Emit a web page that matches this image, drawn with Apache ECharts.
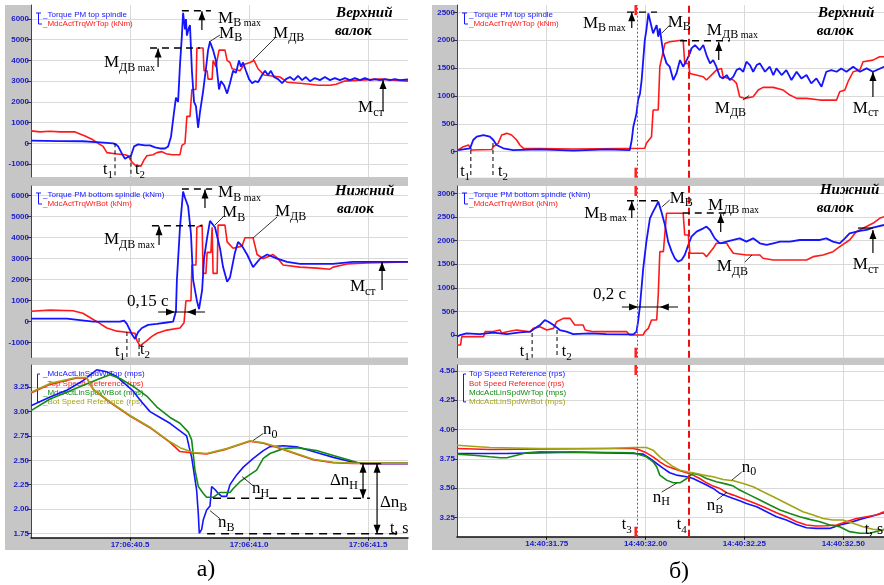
<!DOCTYPE html>
<html><head><meta charset="utf-8">
<script src="https://cdn.jsdelivr.net/npm/echarts@6.0.0/dist/echarts.min.js"></script>
<style>html,body{margin:0;padding:0;background:#fff}#c{width:884px;height:585px}</style>
</head><body><div id="c"></div>
<script>
// ---------------- DATA (time in seconds of the minute, value) ----------------
// a) left figure, 17:06:xx
const aTopTorquePM = [[40.084,125],[40.206,110],[40.302,100],[40.374,50],[40.429,0],[40.441,-50],[40.450,-150],[40.466,-500],[40.479,-750],[40.492,-650],[40.504,-600],[40.517,-150],[40.534,-50],[40.563,-100],[40.584,-100],[40.605,-200],[40.626,-250],[40.647,-250],[40.660,-150],[40.672,300],[40.685,1500],[40.693,2200],[40.702,2000],[40.710,3800],[40.718,5200],[40.723,6300],[40.731,5500],[40.735,6000],[40.739,5200],[40.748,5600],[40.752,5700],[40.760,3500],[40.769,2000],[40.777,1800],[40.786,750],[40.794,1500],[40.807,2500],[40.819,3600],[40.828,4500],[40.836,4900],[40.849,4500],[40.861,4000],[40.874,2600],[40.882,3000],[40.895,2800],[40.908,2400],[40.920,2900],[40.933,3500],[40.945,3400],[40.958,4000],[40.966,3700],[40.975,3900],[40.987,3500],[41.000,3100],[41.013,2900],[41.025,3000],[41.038,2950],[41.055,3300],[41.067,3500],[41.080,3300],[41.092,3500],[41.105,3200],[41.122,3100],[41.139,2900],[41.155,3100],[41.172,3200],[41.189,3050],[41.206,3250],[41.223,3050],[41.239,3200],[41.256,3000],[41.277,3150],[41.298,3050],[41.319,3200],[41.340,3050],[41.361,3150],[41.382,3050],[41.403,3150],[41.424,3050],[41.445,3150],[41.466,3050],[41.487,3150],[41.508,3050],[41.529,3100],[41.550,3050],[41.571,3100],[41.592,3050],[41.613,3100],[41.634,3050],[41.668,3080]];
const aTopTorqueDrive = [[40.084,600],[40.122,550],[40.164,580],[40.206,550],[40.269,550],[40.311,350],[40.340,200],[40.366,0],[40.387,-150],[40.403,-450],[40.437,-500],[40.479,-550],[40.492,-600],[40.508,-900],[40.521,-1050],[40.546,-1100],[40.559,-800],[40.571,-600],[40.597,-550],[40.613,-450],[40.634,-400],[40.651,-500],[40.677,-550],[40.710,-550],[40.718,-100],[40.731,0],[40.739,1300],[40.752,1300],[40.760,2600],[40.777,2600],[40.781,4600],[40.807,4600],[40.811,3500],[40.824,3500],[40.828,3100],[40.845,3100],[40.849,4000],[40.861,3700],[40.874,4500],[40.899,4500],[40.908,4000],[40.920,3900],[40.929,3600],[40.962,3500],[40.979,3800],[41.004,3900],[41.021,4000],[41.038,3600],[41.063,3300],[41.097,3250],[41.130,3200],[41.160,2950],[41.214,2900],[41.256,2850],[41.290,2800],[41.340,2800],[41.366,2850],[41.399,3000],[41.466,3050],[41.550,3100],[41.613,3050],[41.668,3000]];
const aBotTorquePM = [[40.084,150],[40.235,150],[40.345,0],[40.458,0],[40.475,50],[40.487,-100],[40.508,-600],[40.521,-820],[40.534,-500],[40.550,-300],[40.576,-150],[40.613,-100],[40.647,-50],[40.681,0],[40.693,500],[40.697,2000],[40.710,4500],[40.723,6200],[40.731,5900],[40.744,5500],[40.756,4200],[40.765,2000],[40.781,1000],[40.790,600],[40.803,1500],[40.811,3000],[40.824,4000],[40.836,4800],[40.857,4500],[40.878,3500],[40.891,2600],[40.908,1900],[40.920,2100],[40.941,3300],[40.954,3800],[40.971,3600],[40.992,3200],[41.017,2600],[41.046,3000],[41.076,3200],[41.118,3000],[41.160,2850],[41.214,2750],[41.353,2750],[41.437,2850],[41.668,2850]];
const aBotTorqueDrive = [[40.084,500],[40.164,550],[40.260,520],[40.302,400],[40.361,0],[40.403,-300],[40.445,-450],[40.487,-500],[40.521,-550],[40.529,-900],[40.542,-1150],[40.571,-900],[40.592,-700],[40.613,-550],[40.655,-400],[40.710,-300],[40.727,-50],[40.735,1000],[40.756,1000],[40.760,2700],[40.777,2700],[40.781,4500],[40.803,4600],[40.807,2300],[40.819,2300],[40.824,3300],[40.840,3300],[40.845,4500],[40.849,2300],[40.866,2300],[40.870,4600],[40.899,4600],[40.908,3800],[40.933,3500],[40.971,3600],[40.983,4000],[41.017,4000],[41.034,3200],[41.059,3000],[41.101,3200],[41.122,3000],[41.143,2700],[41.214,2600],[41.286,2550],[41.340,2500],[41.353,2600],[41.412,2750],[41.496,2800],[41.668,2850]];
const aTopSpeed = [[40.084,3.06],[40.164,3.15],[40.234,3.22],[40.304,3.32],[40.360,3.43],[40.402,3.41],[40.444,3.36],[40.514,3.21],[40.542,3.12],[40.584,3.00],[40.626,2.94],[40.668,2.88],[40.717,2.79],[40.738,2.75],[40.749,2.63],[40.759,2.53],[40.766,2.42],[40.780,2.19],[40.787,1.95],[40.791,1.75],[40.801,1.79],[40.808,1.89],[40.822,1.99],[40.836,2.03],[40.843,2.23],[40.857,2.20],[40.871,2.16],[40.885,2.13],[40.906,2.13],[40.920,2.25],[40.948,2.35],[40.976,2.43],[41.018,2.52],[41.060,2.60],[41.088,2.64],[41.144,2.65],[41.200,2.64],[41.284,2.58],[41.354,2.53],[41.438,2.48],[41.494,2.465],[41.668,2.465]];
const aTopSpeedRef = [[40.084,3.19],[40.164,3.28],[40.276,3.345],[40.318,3.345],[40.346,3.225],[40.416,3.095],[40.500,2.955],[40.584,2.835],[40.668,2.685],[40.710,2.59],[40.766,2.575],[40.822,2.565],[40.906,2.615],[41.004,2.695],[41.060,2.675],[41.116,2.635],[41.186,2.575],[41.270,2.505],[41.354,2.475],[41.438,2.468],[41.668,2.468]];
const aBotSpeed = [[40.084,3.01],[40.164,3.13],[40.234,3.20],[40.304,3.27],[40.374,3.34],[40.416,3.38],[40.458,3.34],[40.514,3.26],[40.570,3.16],[40.612,3.05],[40.668,2.94],[40.710,2.88],[40.745,2.79],[40.759,2.71],[40.773,2.40],[40.787,2.23],[40.808,2.16],[40.822,2.12],[40.850,2.12],[40.878,2.17],[40.920,2.17],[40.934,2.21],[40.962,2.28],[40.990,2.33],[41.032,2.40],[41.060,2.52],[41.088,2.57],[41.144,2.62],[41.200,2.63],[41.284,2.60],[41.354,2.55],[41.424,2.50],[41.466,2.47],[41.668,2.47]];
const aBotSpeedRef = [[40.084,3.20],[40.164,3.29],[40.276,3.35],[40.318,3.35],[40.346,3.23],[40.416,3.10],[40.500,2.96],[40.584,2.84],[40.668,2.69],[40.710,2.63],[40.766,2.58],[40.822,2.57],[40.906,2.62],[41.004,2.70],[41.060,2.68],[41.116,2.64],[41.186,2.58],[41.270,2.51],[41.354,2.48],[41.438,2.47],[41.668,2.47]];
// б) right figure, 14:40:xx
const bTopTorquePM = [[31.526,30],[31.556,61],[31.564,210],[31.573,269],[31.590,299],[31.606,269],[31.615,210],[31.623,120],[31.640,61],[31.665,30],[31.733,42],[31.817,18],[31.901,42],[31.960,30],[31.965,210],[31.969,449],[31.977,688],[31.981,927],[31.986,1046],[31.990,1285],[31.994,1643],[31.998,2002],[32.002,2181],[32.007,2480],[32.011,2510],[32.015,2241],[32.019,2122],[32.028,2271],[32.032,2062],[32.036,2211],[32.040,2002],[32.045,1763],[32.053,1584],[32.061,1524],[32.070,1285],[32.078,1404],[32.087,1643],[32.095,1524],[32.104,1643],[32.112,1763],[32.116,1853],[32.125,1912],[32.137,1823],[32.146,1912],[32.154,1733],[32.163,1584],[32.171,1643],[32.179,1524],[32.188,1345],[32.196,1315],[32.205,1375],[32.213,1285],[32.222,1345],[32.230,1464],[32.238,1494],[32.247,1434],[32.255,1614],[32.264,1554],[32.272,1434],[32.281,1554],[32.289,1584],[32.302,1434],[32.314,1524],[32.323,1375],[32.331,1494],[32.344,1375],[32.356,1464],[32.369,1285],[32.382,1434],[32.394,1315],[32.407,1375],[32.419,1225],[32.432,1315],[32.445,1166],[32.457,1434],[32.470,1464],[32.483,1434],[32.495,1494],[32.508,1434],[32.525,1524],[32.542,1434],[32.559,1494],[32.575,1434],[32.603,1524]];
const bTopTorqueDrive = [[31.526,30],[31.539,90],[31.552,120],[31.556,90],[31.560,30],[31.611,40],[31.615,90],[31.627,150],[31.636,299],[31.649,329],[31.661,299],[31.674,210],[31.682,120],[31.691,61],[31.817,50],[31.998,61],[32.002,150],[32.015,269],[32.019,747],[32.032,747],[32.036,1524],[32.040,1554],[32.049,1942],[32.061,1972],[32.095,2002],[32.099,1584],[32.108,1584],[32.112,1404],[32.146,1345],[32.154,1285],[32.179,1464],[32.192,1494],[32.196,1345],[32.222,1285],[32.230,1225],[32.238,986],[32.251,956],[32.272,986],[32.285,1106],[32.297,1154],[32.323,1154],[32.348,1106],[32.365,1016],[32.382,956],[32.407,956],[32.441,926],[32.483,926],[32.491,1076],[32.504,1106],[32.512,1255],[32.525,1434],[32.542,1464],[32.550,1614],[32.575,1643],[32.592,1703],[32.603,1703]];
const bBotTorquePM = [[31.523,-35],[31.531,0],[31.547,35],[31.581,21],[31.615,49],[31.649,21],[31.682,56],[31.708,71],[31.720,141],[31.733,212],[31.745,318],[31.754,282],[31.767,212],[31.783,106],[31.800,71],[31.817,21],[31.859,35],[31.901,21],[31.969,14],[31.977,71],[31.981,282],[31.986,635],[31.994,1412],[32.002,1977],[32.011,2471],[32.019,2612],[32.028,2753],[32.032,2824],[32.040,2612],[32.049,2330],[32.057,1977],[32.066,1765],[32.074,1624],[32.082,1553],[32.091,1589],[32.099,1694],[32.108,1906],[32.116,2083],[32.129,2189],[32.146,2259],[32.154,2295],[32.163,2224],[32.175,2047],[32.188,1942],[32.205,1977],[32.222,2012],[32.238,2047],[32.255,1977],[32.272,2047],[32.289,1942],[32.306,1906],[32.323,1942],[32.340,1977],[32.365,1977],[32.390,2012],[32.415,2012],[32.441,2012],[32.457,2047],[32.474,1977],[32.491,1942],[32.504,2047],[32.516,2153],[32.542,2203],[32.559,2224],[32.575,2273],[32.603,2330]];
const bBotTorqueDrive = [[31.523,-212],[31.532,-212],[31.535,-35],[31.590,-35],[31.594,71],[31.611,71],[31.615,106],[31.632,106],[31.636,35],[31.649,71],[31.674,106],[31.708,71],[31.716,141],[31.733,177],[31.750,106],[31.767,141],[31.775,282],[31.792,353],[31.809,353],[31.821,212],[31.842,212],[31.847,106],[31.868,71],[31.952,71],[31.960,0],[31.994,0],[31.998,71],[32.007,141],[32.015,318],[32.028,318],[32.032,847],[32.036,1765],[32.045,1765],[32.053,2577],[32.095,2577],[32.099,2118],[32.108,2118],[32.112,1730],[32.146,1730],[32.154,1659],[32.171,1836],[32.179,1942],[32.205,1942],[32.213,1836],[32.222,1730],[32.255,1694],[32.289,1694],[32.297,1624],[32.323,1589],[32.407,1589],[32.424,1659],[32.449,1694],[32.474,1765],[32.491,1871],[32.516,2012],[32.533,2189],[32.550,2259],[32.575,2365],[32.592,2471],[32.603,2506]];
const bTopSpeedRef = [[31.523,3.795],[31.649,3.795],[31.817,3.807],[31.969,3.795],[31.994,3.790],[32.011,3.753],[32.028,3.710],[32.045,3.668],[32.061,3.631],[32.078,3.611],[32.104,3.597],[32.120,3.582],[32.137,3.554],[32.154,3.526],[32.171,3.497],[32.188,3.455],[32.205,3.432],[32.222,3.412],[32.238,3.392],[32.255,3.369],[32.281,3.341],[32.306,3.298],[32.331,3.256],[32.356,3.227],[32.382,3.190],[32.407,3.162],[32.432,3.156],[32.466,3.156],[32.491,3.185],[32.516,3.205],[32.542,3.233],[32.567,3.256],[32.603,3.290]];
const bBotSpeedRef = [[31.523,3.838],[31.606,3.830],[31.901,3.838],[31.969,3.838],[31.986,3.824],[32.002,3.801],[32.019,3.767],[32.036,3.724],[32.053,3.688],[32.070,3.668],[32.087,3.648],[32.104,3.631],[32.120,3.611],[32.137,3.582],[32.154,3.545],[32.171,3.517],[32.188,3.497],[32.205,3.460],[32.222,3.440],[32.238,3.420],[32.255,3.398],[32.281,3.364],[32.306,3.327],[32.331,3.290],[32.356,3.256],[32.382,3.213],[32.407,3.185],[32.432,3.176],[32.457,3.179],[32.483,3.185],[32.508,3.213],[32.533,3.241],[32.559,3.256],[32.584,3.270],[32.603,3.298]];
const bTopLinSpeed = [[31.523,3.790],[31.564,3.781],[31.606,3.767],[31.632,3.759],[31.649,3.759],[31.674,3.781],[31.699,3.801],[31.733,3.810],[31.969,3.801],[32.002,3.767],[32.019,3.724],[32.028,3.682],[32.036,3.611],[32.053,3.568],[32.070,3.545],[32.087,3.545],[32.104,3.582],[32.120,3.625],[32.137,3.611],[32.154,3.582],[32.179,3.554],[32.205,3.534],[32.222,3.517],[32.238,3.483],[32.264,3.440],[32.289,3.398],[32.314,3.355],[32.340,3.313],[32.365,3.284],[32.390,3.256],[32.415,3.233],[32.441,3.213],[32.466,3.185],[32.491,3.170],[32.516,3.128],[32.542,3.114],[32.567,3.114],[32.603,3.148]];
const bBotLinSpeed = [[31.523,3.866],[31.606,3.847],[31.733,3.838],[31.901,3.838],[31.969,3.847],[32.002,3.847],[32.019,3.824],[32.036,3.767],[32.053,3.724],[32.070,3.682],[32.087,3.653],[32.104,3.639],[32.120,3.631],[32.146,3.611],[32.171,3.597],[32.196,3.574],[32.222,3.563],[32.247,3.540],[32.272,3.511],[32.297,3.469],[32.323,3.426],[32.348,3.384],[32.373,3.341],[32.398,3.298],[32.424,3.270],[32.449,3.241],[32.474,3.227],[32.499,3.227],[32.525,3.199],[32.550,3.170],[32.575,3.148],[32.603,3.142]];
// tick values
const aTimeTicks = [40.5, 41.0, 41.5];
const bTimeTicks = [31.75, 32.00, 32.25, 32.50];
const aTorqueTicks = [-1000, 0, 1000, 2000, 3000, 4000, 5000, 6000];
const aSpeedTicks = [1.75, 2.00, 2.25, 2.50, 2.75, 3.00, 3.25];
const bTopTorqueTicks = [0, 500, 1000, 1500, 2000, 2500];
const bBotTorqueTicks = [0, 500, 1000, 1500, 2000, 2500, 3000];
const bSpeedTicks = [3.25, 3.50, 3.75, 4.00, 4.25, 4.50];
const bMarkTimes = [31.975, 32.113]; // t3, t4

// ---------------- CHART ----------------
const BLUE = '#1414ff', RED = '#ff1a1a', GREEN = '#138a13', OLIVE = '#a3a317';
const LBL = '#1a1acc';
const chart = echarts.init(document.getElementById('c'));
const rowsL = [{top:5,height:172},{top:186,height:171.5},{top:365,height:172.7}];
const rowsR = [{top:5,height:172.7},{top:186,height:171.7},{top:365,height:171.7}];
const grids = [];
rowsL.forEach(r => grids.push({left:31, width:377, top:r.top, height:r.height, show:true, backgroundColor:'#fff', borderWidth:0}));
rowsR.forEach(r => grids.push({left:457, width:427, top:r.top, height:r.height, show:true, backgroundColor:'#fff', borderWidth:0}));

function yAx(g, min, max, ticks, dec) {
  return {type:'value', gridIndex:g, min:min, max:max,
    axisLine:{show:true, onZero:false, lineStyle:{color:'#444', width:1}},
    axisTick:{show:true, length:4, customValues:ticks, lineStyle:{color:'#333'}},
    axisLabel:{customValues:ticks, color:LBL, fontSize:8, fontWeight:'bold', fontFamily:'"Liberation Sans", Arial', margin:2,
      formatter: v => dec ? v.toFixed(dec) : String(v)},
    splitLine:{show:true, lineStyle:{color:'#d9d9d9', width:1}}};
}
function xAx(g, min, max, ticks, fmt, show) {
  return {type:'value', gridIndex:g, min:min, max:max,
    axisLine:{show:show, onZero:false, lineStyle:{color:'#111', width:1.5}},
    axisTick:{show:show, length:3, customValues:ticks, lineStyle:{color:'#111'}},
    axisLabel:{show:show, customValues:ticks, color:LBL, fontSize:8, fontWeight:'bold', fontFamily:'"Liberation Sans", Arial', margin:3, formatter:fmt},
    splitLine:{show:true, lineStyle:{color:'#d9d9d9', width:1}}};
}
const fa = v => '17:06:' + v.toFixed(1);
const fb = v => '14:40:' + v.toFixed(2);
const xAxes = [
  xAx(0, 40.084, 41.668, aTimeTicks, fa, false), xAx(1, 40.084, 41.668, aTimeTicks, fa, false), xAx(2, 40.084, 41.668, aTimeTicks, fa, true),
  xAx(3, 31.523, 32.603, bTimeTicks, fb, false), xAx(4, 31.523, 32.603, bTimeTicks, fb, false), xAx(5, 31.523, 32.603, bTimeTicks, fb, true)
];
const yAxes = [
  yAx(0, -1626, 6676, aTorqueTicks, 0), yAx(1, -1705, 6462, aTorqueTicks, 0), yAx(2, 1.705, 3.479, aSpeedTicks, 2),
  yAx(3, -466, 2631, bTopTorqueTicks, 0), yAx(4, -480, 3155, bBotTorqueTicks, 0), yAx(5, 3.085, 4.551, bSpeedTicks, 2)
];
function ln(g, data, color, w, extra) {
  return Object.assign({type:'line', xAxisIndex:g, yAxisIndex:g, data:data, symbol:'none', showSymbol:false,
    lineStyle:{color:color, width:w || 1.6}, itemStyle:{color:color}, animation:false, z:3}, extra || {});
}
const tMarks = {symbol:['none','none'], silent:true, animation:false, label:{show:false},
  data:[{xAxis:bMarkTimes[0], lineStyle:{color:'#ff2020', width:1, type:[2,2]}},
        {xAxis:bMarkTimes[1], lineStyle:{color:'#ee1010', width:2, type:[7,4]}}]};
const series = [
  ln(0, aTopTorqueDrive, RED), ln(0, aTopTorquePM, BLUE, 1.8),
  ln(1, aBotTorqueDrive, RED), ln(1, aBotTorquePM, BLUE, 1.8),
  ln(2, aTopSpeed, BLUE), ln(2, aTopSpeedRef, RED), ln(2, aBotSpeed, GREEN), ln(2, aBotSpeedRef, OLIVE),
  ln(3, bTopTorqueDrive, RED, 1.6, {markLine:tMarks}), ln(3, bTopTorquePM, BLUE, 1.8),
  ln(4, bBotTorqueDrive, RED, 1.6, {markLine:tMarks}), ln(4, bBotTorquePM, BLUE, 1.8),
  ln(5, bTopSpeedRef, BLUE, 1.6, {markLine:tMarks}), ln(5, bBotSpeedRef, RED), ln(5, bTopLinSpeed, GREEN), ln(5, bBotLinSpeed, OLIVE)
];
chart.setOption({backgroundColor:'#fff', animation:false, grid:grids, xAxis:xAxes, yAxis:yAxes, series:series});

// ---------------- ANNOTATIONS ----------------
const G = [];
G.push({type:'rect', shape:{x:5, y:5, width:403, height:545}, style:{fill:'#c6c6c6'}, z:-10});
G.push({type:'rect', shape:{x:432, y:5, width:452, height:545}, style:{fill:'#c6c6c6'}, z:-10});
function P(g, t, v) { return chart.convertToPixel({gridIndex:g}, [t, v]); }
const mctx = document.createElement('canvas').getContext('2d');
function tw(s, font) { mctx.font = font; return mctx.measureText(s).width; }
const SERIF = '"Liberation Serif", "Times New Roman", serif';
function rt(p, pieces, align) {
  const fonts = pieces.map(q => (q[3] ? q[3] + ' ' : '') + q[1] + 'px ' + SERIF);
  const ws = pieces.map((q, i) => tw(q[0], fonts[i]));
  const tot = ws.reduce((a, b) => a + b, 0);
  let cx = align === 'right' ? p[0] - tot : (align === 'center' ? p[0] - tot / 2 : p[0]);
  pieces.forEach((q, i) => {
    G.push({type:'text', x:cx, y:p[1] + q[2], style:{text:q[0], font:fonts[i], fill:'#000', align:'left', verticalAlign:'middle'}, z:20});
    cx += ws[i];
  });
}
function seg(a, b, dash, w) {
  G.push({type:'line', shape:{x1:a[0], y1:a[1], x2:b[0], y2:b[1]}, style:{stroke:'#000', lineWidth:w || 1.2, lineDash:dash || null}, z:20});
}
function head(tip, dir) {
  const x = tip[0], y = tip[1], L = 9, W = 3.5;
  let pts;
  if (dir === 'up') pts = [[x, y], [x - W, y + L], [x + W, y + L]];
  else if (dir === 'down') pts = [[x, y], [x - W, y - L], [x + W, y - L]];
  else if (dir === 'right') pts = [[x, y], [x - L, y - W], [x - L, y + W]];
  else pts = [[x, y], [x + L, y - W], [x + L, y + W]];
  G.push({type:'polygon', shape:{points:pts}, style:{fill:'#000'}, z:20});
}
const DASH = [7, 5];
const M = s => [['M', 17, 0], [s, 12, 5]];
const Mmax = s => [['M', 17, 0], [s, 12, 5], [' max', 10, 5]];
const T = s => [['t', 16, 0], [s, 11, 5]];
const N = s => [['n', 17, 0], [s, 12, 5]];
const DN = s => [['Δn', 17, 0], [s, 12, 5]];
const BI = s => [[s, 15, 0, 'italic bold']];
function upArrow(g, t, v1, v2) { seg(P(g, t, v1), P(g, t, v2)); head(P(g, t, v2), 'up'); }

// a) top roll
rt(P(0, 40.870, 6047), Mmax('В'));
seg(P(0, 40.718, 6400), P(0, 40.840, 6400), DASH, 1.4);
upArrow(0, 40.802, 5468, 6380);
rt(P(0, 40.874, 5323), M('В'));
seg(P(0, 40.832, 4889), P(0, 40.878, 5227), null, 0.8);
rt(P(0, 41.101, 5323), M('ДВ'));
seg(P(0, 41.109, 5082), P(0, 41.017, 4020), null, 0.8);
rt(P(0, 40.605, 3875), Mmax('ДВ'), 'right');
seg(P(0, 40.584, 4600), P(0, 40.794, 4600), DASH, 1.4);
upArrow(0, 40.618, 3682, 4580);
rt(P(0, 41.458, 1704), M('ст'));
upArrow(0, 41.563, 1550, 3055);
seg(P(0, 40.437, 0), P(0, 40.437, -1626), [4, 3], 1);
rt(P(0, 40.387, -1290), T('1'));
seg(P(0, 40.504, -600), P(0, 40.504, -1626), [4, 3], 1);
rt(P(0, 40.521, -1290), T('2'));
rt(P(0, 41.366, 6289), BI('Верхний'));
rt(P(0, 41.361, 5420), BI('валок'));

// a) bottom roll
rt(P(1, 40.870, 6129), Mmax('В'));
seg(P(1, 40.718, 6319), P(1, 40.845, 6319), DASH, 1.4);
upArrow(1, 40.815, 5414, 6300);
rt(P(1, 40.887, 5176), M('В'));
seg(P(1, 40.857, 4605), P(1, 40.891, 4986), null, 0.8);
rt(P(1, 41.109, 5224), M('ДВ'));
seg(P(1, 41.118, 4986), P(1, 41.017, 3986), null, 0.8);
rt(P(1, 40.605, 3891), Mmax('ДВ'), 'right');
seg(P(1, 40.592, 4572), P(1, 40.803, 4572), DASH, 1.4);
upArrow(1, 40.622, 3653, 4550);
rt(P(1, 41.424, 1652), M('ст'));
upArrow(1, 41.559, 1510, 2843);
rt(P(1, 40.487, 938), [['0,15 с', 17, 0]]);
seg(P(1, 40.618, 462), P(1, 40.815, 462), null, 1.1);
head(P(1, 40.689, 462), 'right');
head(P(1, 40.739, 462), 'left');
seg(P(1, 40.487, -490), P(1, 40.487, -1705), [4, 3], 1);
rt(P(1, 40.437, -1438), T('1'));
seg(P(1, 40.538, -776), P(1, 40.538, -1705), [4, 3], 1);
rt(P(1, 40.542, -1343), T('2'));
rt(P(1, 41.361, 6224), BI('Нижний'));
rt(P(1, 41.370, 5367), BI('валок'));

// a) speeds
rt(P(2, 41.059, 2.816), N('0'));
seg(P(2, 41.017, 2.703), P(2, 41.059, 2.775), null, 0.8);
rt(P(2, 41.013, 2.209), N('Н'));
seg(P(2, 40.971, 2.332), P(2, 41.017, 2.239), null, 0.8);
rt(P(2, 40.870, 1.859), N('В'));
seg(P(2, 40.836, 1.983), P(2, 40.878, 1.900), null, 0.8);
seg(P(2, 40.849, 2.109), P(2, 41.508, 2.109), [8, 6], 1.5);
seg(P(2, 40.824, 1.745), P(2, 41.647, 1.745), [8, 6], 1.5);
seg(P(2, 41.466, 2.465), P(2, 41.555, 2.465), null, 1.2);
rt(P(2, 41.340, 2.291), DN('Н'));
seg(P(2, 41.479, 2.465), P(2, 41.479, 2.109));
head(P(2, 41.479, 2.465), 'up'); head(P(2, 41.479, 2.109), 'down');
rt(P(2, 41.550, 2.065), DN('В'));
seg(P(2, 41.538, 2.465), P(2, 41.538, 1.745));
head(P(2, 41.538, 2.465), 'up'); head(P(2, 41.538, 1.745), 'down');
rt(P(2, 41.592, 1.797), [['t, s', 16, 0]]);

// б) top roll
rt(P(3, 31.950, 2306), Mmax('В'), 'right');
seg(P(3, 31.953, 2503), P(3, 32.029, 2503), DASH, 1.4);
upArrow(3, 31.965, 2217, 2500);
rt(P(3, 32.056, 2324), M('В'));
seg(P(3, 32.041, 2127), P(3, 32.061, 2270), null, 0.8);
rt(P(3, 32.155, 2181), Mmax('ДВ'));
seg(P(3, 32.087, 1989), P(3, 32.213, 1989), DASH, 1.4);
upArrow(3, 32.185, 1643, 1966);
rt(P(3, 32.175, 783), M('ДВ'));
seg(P(3, 32.246, 925), P(3, 32.262, 1010), null, 0.8);
rt(P(3, 32.524, 783), M('ст'));
upArrow(3, 32.575, 980, 1428);
seg(P(3, 31.558, 30), P(3, 31.558, -466), [4, 3], 1);
rt(P(3, 31.531, -364), T('1'));
seg(P(3, 31.614, 156), P(3, 31.614, -466), [4, 3], 1);
rt(P(3, 31.627, -364), T('2'));
rt(P(3, 32.436, 2486), BI('Верхний'));
rt(P(3, 32.433, 2163), BI('валок'));

// б) bottom roll
rt(P(4, 31.953, 2582), Mmax('В'), 'right');
seg(P(4, 31.953, 2843), P(4, 32.031, 2843), DASH, 1.4);
upArrow(4, 31.965, 2477, 2830);
rt(P(4, 32.061, 2900), M('В'));
seg(P(4, 32.041, 2710), P(4, 32.061, 2858), null, 0.8);
rt(P(4, 32.158, 2752), Mmax('ДВ'));
seg(P(4, 32.094, 2583), P(4, 32.218, 2583), DASH, 1.4);
upArrow(4, 32.190, 2181, 2560);
rt(P(4, 32.180, 1440), M('ДВ'));
seg(P(4, 32.251, 1545), P(4, 32.269, 1694), null, 0.8);
rt(P(4, 32.524, 1482), M('ст'));
upArrow(4, 32.575, 1736, 2223);
seg(P(4, 32.537, 2265), P(4, 32.575, 2265), null, 1.2);
rt(P(4, 31.867, 847), [['0,2 с', 17, 0]]);
seg(P(4, 31.940, 593), P(4, 32.082, 593), null, 1.1);
head(P(4, 31.981, 593), 'right');
head(P(4, 32.036, 593), 'left');
seg(P(4, 31.713, 42), P(4, 31.713, -480), [4, 3], 1);
rt(P(4, 31.682, -360), T('1'));
seg(P(4, 31.776, 106), P(4, 31.776, -480), [4, 3], 1);
rt(P(4, 31.788, -360), T('2'));
rt(P(4, 32.441, 3070), BI('Нижний'));
rt(P(4, 32.433, 2689), BI('валок'));

// б) speeds
rt(P(5, 32.243, 3.679), N('0'));
seg(P(5, 32.218, 3.568), P(5, 32.243, 3.637), null, 0.8);
rt(P(5, 32.018, 3.423), N('Н'));
seg(P(5, 32.041, 3.466), P(5, 32.079, 3.543), null, 0.8);
rt(P(5, 32.155, 3.355), N('В'));
seg(P(5, 32.180, 3.398), P(5, 32.206, 3.466), null, 0.8);
rt(P(5, 31.940, 3.184), T('3'));
rt(P(5, 32.079, 3.184), T('4'));
rt(P(5, 32.554, 3.142), [['t, s', 16, 0]]);

// red thick marks of t3 at top/bottom of right panels
[3, 4, 5].forEach(g => {
  const ya = yAxes[g];
  const top = P(g, bMarkTimes[0], ya.max), bot = P(g, bMarkTimes[0], ya.min);
  G.push({type:'line', shape:{x1:top[0], y1:top[1], x2:top[0], y2:top[1] + 10}, style:{stroke:'#ff2020', lineWidth:2.5}, z:20});
  G.push({type:'line', shape:{x1:bot[0], y1:bot[1] - 10, x2:bot[0], y2:bot[1]}, style:{stroke:'#ff2020', lineWidth:2.5}, z:20});
});

// captions
G.push({type:'text', x:206, y:570, style:{text:'а)', font:'24px ' + SERIF, fill:'#000', align:'center', verticalAlign:'middle'}, z:20});
G.push({type:'text', x:679, y:572, style:{text:'б)', font:'24px ' + SERIF, fill:'#000', align:'center', verticalAlign:'middle'}, z:20});

// legends
function legend(x0, y0, rows, step) {
  const yb = y0 + (rows.length - 1) * step;
  if (rows.length === 2) {
    G.push({type:'polyline', shape:{points:[[x0, y0 - 2], [x0 + 5, y0 - 2]]}, style:{stroke:BLUE, lineWidth:1, fill:null}, z:1});
    G.push({type:'polyline', shape:{points:[[x0 + 2.5, y0 - 2], [x0 + 2.5, yb], [x0 + 6, yb]]}, style:{stroke:BLUE, lineWidth:1, fill:null}, z:1});
  } else {
    G.push({type:'polyline', shape:{points:[[x0 + 4, y0], [x0 + 1.5, y0], [x0 + 1.5, yb], [x0 + 4, yb]]}, style:{stroke:BLUE, lineWidth:1, fill:null}, z:1});
  }
  rows.forEach((r, i) => {
    G.push({type:'text', x:x0 + 7, y:y0 + i * step, style:{text:r[0], font:'8px "Liberation Sans", Arial', fill:r[1], align:'left', verticalAlign:'middle'}, z:1});
  });
}
legend(36, 15, [['_Torque PM top spindle', BLUE], ['_MdcActTrqWrTop (kNm)', RED]], 9);
legend(36, 195, [['_Torque PM bottom spindle (kNm)', BLUE], ['_MdcActTrqWrBot (kNm)', RED]], 9);
legend(36, 374, [['_MdcActLinSpdWrTop (mps)', BLUE], ['_Top Speed Reference (rps)', RED], ['_MdcActLinSpdWrBot (mps)', GREEN], ['_Bot Speed Reference (rps)', OLIVE]], 9.3);
legend(462, 15, [['_Torque PM top spindle', BLUE], ['_MdcActTrqWrTop (kNm)', RED]], 9);
legend(462, 195, [['_Torque PM bottom spindle (kNm)', BLUE], ['_MdcActTrqWrBot (kNm)', RED]], 9);
legend(462, 374, [['Top Speed Reference (rps)', BLUE], ['Bot Speed Reference (rps)', RED], ['MdcActLinSpdWrTop (mps)', GREEN], ['MdcActLinSpdWrBot (mps)', OLIVE]], 9.3);

chart.setOption({graphic:{elements:G}});
</script></body></html>
